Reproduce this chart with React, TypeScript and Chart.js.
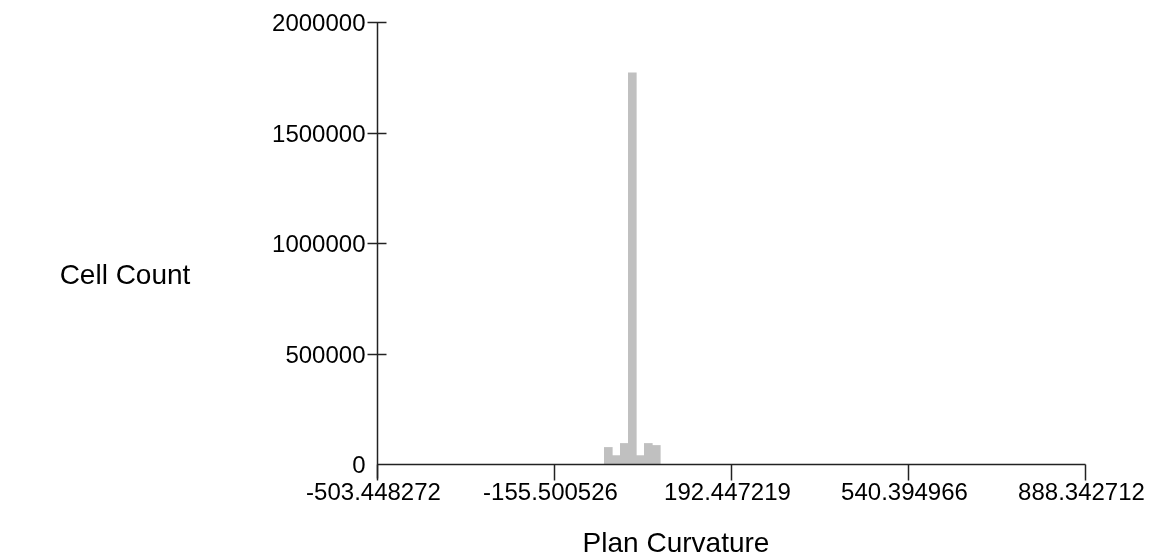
import React, { useEffect, useRef } from "react";
import { Chart, registerables } from "chart.js";

Chart.register(...registerables);

// Histogram bins (bin centre on the curvature axis) and their cell counts
const binCenters = [-48.75, -33.0, -17.3, -1.55, 14.2, 29.9, 45.6];
const cellCounts = [75000, 38000, 93000, 1770000, 38000, 93000, 84000];

// Axis ticks
const xTickLabels = ["-503.448272", "-155.500526", "192.447219", "540.394966", "888.342712"];
const yTickValues = [0, 500000, 1000000, 1500000, 2000000];

const xTitle = "Plan Curvature";
const yTitle = "Cell Count";

const TICK_FONT = "24px 'Liberation Sans', Arial, sans-serif";
const TITLE_FONT = "28px 'Liberation Sans', Arial, sans-serif";
const AXIS_COLOR = "#222222";

// Draws the axis lines, crossing tick marks, tick labels and titles
const axesPlugin = {
  id: "histogramAxes",
  afterDraw(chart: any) {
    const ctx = chart.ctx as CanvasRenderingContext2D;
    const xs = chart.scales.x;
    const ys = chart.scales.y;
    const xTicks = xTickLabels.map((t) => parseFloat(t));
    const x0 = Math.round(xs.getPixelForValue(xTicks[0])) + 0.5;
    const x1 = Math.round(xs.getPixelForValue(xTicks[xTicks.length - 1])) + 0.5;
    const yBase = Math.round(ys.getPixelForValue(0)) + 0.5;
    const yTop = Math.round(ys.getPixelForValue(yTickValues[yTickValues.length - 1])) + 0.5;

    ctx.save();
    ctx.strokeStyle = AXIS_COLOR;
    ctx.lineWidth = 1.5;

    // y axis line, running a little below the x axis
    ctx.beginPath();
    ctx.moveTo(x0, yTop);
    ctx.lineTo(x0, yBase + 14);
    ctx.stroke();

    // x axis line
    ctx.beginPath();
    ctx.moveTo(x0, yBase);
    ctx.lineTo(x1, yBase);
    ctx.stroke();

    // y ticks cross the axis
    ctx.font = TICK_FONT;
    ctx.fillStyle = "#000000";
    ctx.textAlign = "right";
    ctx.textBaseline = "alphabetic";
    yTickValues.forEach((v) => {
      const py = Math.round(ys.getPixelForValue(v)) + 0.5;
      if (v !== 0) {
        ctx.beginPath();
        ctx.moveTo(x0 - 10, py);
        ctx.lineTo(x0 + 9, py);
        ctx.stroke();
      }
      ctx.fillText(String(v), x0 - 12, py + 8);
    });

    // x ticks hang below the axis
    ctx.textAlign = "center";
    xTicks.forEach((v, i) => {
      const px = Math.round(xs.getPixelForValue(v)) + 0.5;
      ctx.beginPath();
      ctx.moveTo(px, yBase);
      ctx.lineTo(px, yBase + 16);
      ctx.stroke();
      ctx.fillText(xTickLabels[i], px - 4, yBase + 35);
    });

    // titles
    ctx.font = TITLE_FONT;
    ctx.textAlign = "center";
    ctx.fillText(xTitle, 676, 552);
    ctx.fillText(yTitle, 125, 284);
    ctx.restore();
  },
};

export default function App() {
  const canvasRef = useRef<HTMLCanvasElement | null>(null);

  useEffect(() => {
    const canvas = canvasRef.current;
    if (!canvas) return;
    const chart = new Chart(canvas, {
      type: "bar",
      data: {
        datasets: [
          {
            label: yTitle,
            data: binCenters.map((x, i) => ({ x, y: cellCounts[i] })),
            backgroundColor: "#c0c0c0",
            borderWidth: 0,
            categoryPercentage: 1.0,
            barPercentage: 1.0,
          },
        ],
      },
      options: {
        responsive: false,
        animation: false,
        layout: { padding: { left: 377, right: 65, top: 22, bottom: 90 } },
        plugins: { legend: { display: false }, tooltip: { enabled: false } },
        scales: {
          x: {
            type: "linear",
            display: false,
            min: parseFloat(xTickLabels[0]),
            max: parseFloat(xTickLabels[xTickLabels.length - 1]),
            offset: false,
          },
          y: {
            type: "linear",
            display: false,
            min: yTickValues[0],
            max: yTickValues[yTickValues.length - 1],
          },
        },
      },
      plugins: [axesPlugin],
    });
    return () => chart.destroy();
  }, []);

  return (
    <div style={{ position: "absolute", left: 0, top: 0, width: 1150, height: 554, background: "#ffffff" }}>
      <canvas ref={canvasRef} width={1150} height={554} style={{ display: "block" }} />
    </div>
  );
}
